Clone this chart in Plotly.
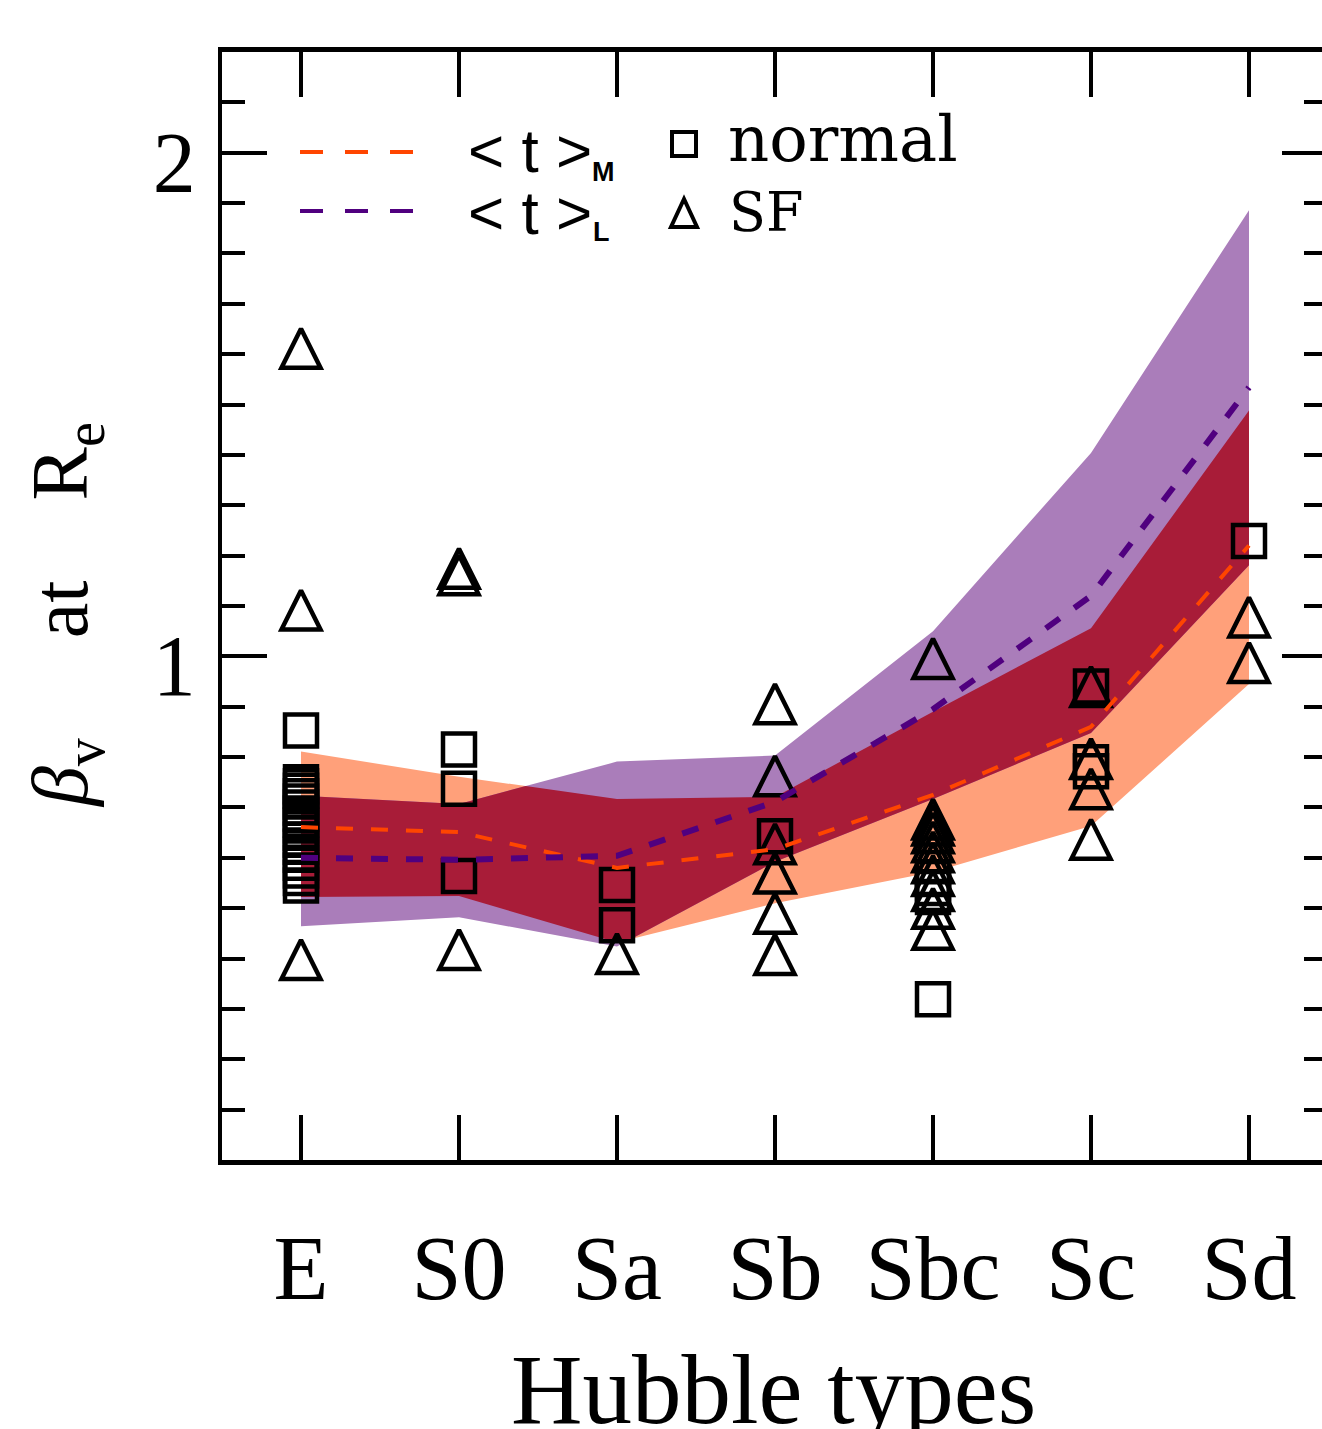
import plotly.graph_objects as go

# ---------------- data ----------------
categories = ["E", "S0", "Sa", "Sb", "Sbc", "Sc", "Sd"]

# mass-weighted (<t>_M) and light-weighted (<t>_L) ranges and means
mass_lower  = [0.522, 0.524, 0.432, 0.510, 0.572, 0.663, 0.945]
mass_upper  = [0.811, 0.761, 0.717, 0.721, 0.890, 1.056, 1.488]
light_lower = [0.464, 0.482, 0.424, 0.592, 0.717, 0.848, 1.181]
light_upper = [0.723, 0.707, 0.791, 0.803, 1.050, 1.404, 1.886]
mass_mean   = [0.661, 0.651, 0.580, 0.617, 0.725, 0.860, 1.220]
light_mean  = [0.600, 0.596, 0.604, 0.711, 0.895, 1.120, 1.534]

# individual galaxies: normal (squares) and star-forming (triangles)
normal_type = ["E"] * 18 + ["S0"] * 3 + ["Sa"] * 2 + ["Sb"] + ["Sbc"] * 4 + ["Sc"] * 3 + ["Sd"]
normal_beta = [0.853, 0.750, 0.742, 0.733, 0.722, 0.712, 0.700, 0.688, 0.676, 0.664, 0.650,
               0.636, 0.622, 0.606, 0.590, 0.575, 0.560, 0.545,
               0.815, 0.737, 0.564,
               0.546, 0.466,
               0.643,
               0.560, 0.540, 0.522, 0.319,
               0.940, 0.790, 0.772,
               1.229]
sf_type = ["E"] * 3 + ["S0"] * 3 + ["Sa"] + ["Sb"] * 6 + ["Sbc"] * 11 + ["Sc"] * 4 + ["Sd"] * 2
sf_beta = [1.612, 1.092, 0.398,
           1.175, 1.162, 0.418,
           0.410,
           0.906, 0.763, 0.628, 0.570, 0.490, 0.408,
           0.996, 0.677, 0.665, 0.650, 0.632, 0.612, 0.590, 0.565, 0.535, 0.500, 0.458,
           0.940, 0.797, 0.737, 0.637,
           1.078, 0.988]

# ---------------- styles ----------------
SALMON = "rgb(255,160,122)"
LILAC = "rgb(170,125,186)"
CRIMSON = "rgb(168,28,56)"
ORANGE = "#FF4500"
INDIGO = "#50007F"
SERIF = "Liberation Serif"
SERIF2 = "DejaVu Serif"

W, H = 1322, 1429
L, R, T, B = 222, 1322, 52, 1160


def px_x(p):
    return (p - L) / (R - L)


def px_y(p):
    return (B - p) / (B - T)


xs = list(range(len(categories)))
pos = {c: i for i, c in enumerate(categories)}


def envelope(x, a, b, pick):
    ox, oy = [], []
    n = len(x)
    for i in range(n):
        ox.append(x[i])
        oy.append(pick(a[i], b[i]))
        if i < n - 1:
            d0 = a[i] - b[i]
            d1 = a[i + 1] - b[i + 1]
            if d0 * d1 < 0:
                t = d0 / (d0 - d1)
                ox.append(x[i] + t * (x[i + 1] - x[i]))
                oy.append(a[i] + t * (a[i + 1] - a[i]))
    return ox, oy


fig = go.Figure()

# bands
fig.add_trace(go.Scatter(x=xs + xs[::-1], y=mass_upper + mass_lower[::-1], fill="toself",
                         fillcolor=SALMON, line=dict(width=0), mode="lines", hoverinfo="skip"))
fig.add_trace(go.Scatter(x=xs + xs[::-1], y=light_upper + light_lower[::-1], fill="toself",
                         fillcolor=LILAC, line=dict(width=0), mode="lines", hoverinfo="skip"))
tx, ty = envelope(xs, mass_upper, light_upper, min)
bx, by = envelope(xs, mass_lower, light_lower, max)
fig.add_trace(go.Scatter(x=tx + bx[::-1], y=ty + by[::-1], fill="toself",
                         fillcolor=CRIMSON, line=dict(width=0), mode="lines", hoverinfo="skip"))

# points
fig.add_trace(go.Scatter(x=[pos[c] for c in normal_type], y=normal_beta, mode="markers",
                         marker=dict(symbol="square-open", size=32, color="black",
                                     line=dict(width=4.5, color="black"))))
TRI = 39
fig.add_trace(go.Scatter(x=[pos[c] for c in sf_type], y=sf_beta, mode="markers",
                         marker=dict(symbol="arrow-down-open", size=TRI, angle=180, standoff=TRI / 2,
                                     color="black", line=dict(width=4.5, color="black"))))

# mean lines
fig.add_trace(go.Scatter(x=xs, y=mass_mean, mode="lines",
                         line=dict(color=ORANGE, width=4, dash="17px,18px")))
fig.add_trace(go.Scatter(x=xs, y=light_mean, mode="lines",
                         line=dict(color=INDIGO, width=6, dash="17px,18px")))

# dummy trace for right-hand axis ticks
fig.add_trace(go.Scatter(x=[None], y=[None], yaxis="y2", mode="markers", showlegend=False))

# ---------------- legend (drawn in paper space) ----------------
shapes = [
    dict(type="line", xref="paper", yref="paper", x0=px_x(300), x1=px_x(414), y0=px_y(152), y1=px_y(152),
         line=dict(color=ORANGE, width=4, dash="23px,22px")),
    dict(type="line", xref="paper", yref="paper", x0=px_x(300), x1=px_x(414), y0=px_y(211), y1=px_y(211),
         line=dict(color=INDIGO, width=4, dash="23px,22px")),
    dict(type="rect", xref="paper", yref="paper", x0=px_x(672), x1=px_x(696), y0=px_y(156), y1=px_y(132),
         line=dict(color="black", width=4)),
    dict(type="path", xref="paper", yref="paper",
         path="M {:.5f},{:.5f} L {:.5f},{:.5f} L {:.5f},{:.5f} Z".format(
             px_x(684), px_y(199), px_x(671), px_y(227), px_x(697), px_y(227)),
         line=dict(color="black", width=4)),
]

annotations = [
    dict(text="&lt; t &gt;", x=px_x(466), y=px_y(150), xanchor="left", yanchor="middle",
         font=dict(family="Liberation Sans", size=62, color="black")),
    dict(text="&lt; t &gt;", x=px_x(466), y=px_y(212), xanchor="left", yanchor="middle",
         font=dict(family="Liberation Sans", size=62, color="black")),
    dict(text="<b>M</b>", x=px_x(603), y=px_y(172), xanchor="center", yanchor="middle",
         font=dict(family="Liberation Sans", size=27, color="black")),
    dict(text="<b>L</b>", x=px_x(601), y=px_y(232), xanchor="center", yanchor="middle",
         font=dict(family="Liberation Sans", size=27, color="black")),
    dict(text="normal", x=px_x(726), y=px_y(139), xanchor="left", yanchor="middle",
         font=dict(family=SERIF2, size=64, color="black")),
    dict(text="SF", x=px_x(727), y=px_y(212), xanchor="left", yanchor="middle",
         font=dict(family=SERIF2, size=54, color="black")),
    dict(text="Hubble types", x=px_x(773), y=px_y(1389), xanchor="center", yanchor="middle",
         font=dict(family=SERIF, size=99, color="black")),
    dict(text="<i>β</i><sub>v</sub>&nbsp;&nbsp;&nbsp;&nbsp; at &nbsp;&nbsp;&nbsp;R<sub>e</sub>",
         x=px_x(66), y=px_y(615), xanchor="center", yanchor="middle", textangle=-90,
         font=dict(family=SERIF, size=80, color="black")),
]
for a in annotations:
    a.update(xref="paper", yref="paper", showarrow=False)

fig.update_layout(
    template="none",
    width=W, height=H,
    margin=dict(l=L, r=W - R, t=T, b=H - B, pad=0),
    plot_bgcolor="white", paper_bgcolor="white",
    showlegend=False,
    shapes=shapes,
    annotations=annotations,
    xaxis=dict(range=[-0.5, -0.5 + (R - L) / 158.0], tickmode="array", tickvals=xs, ticktext=categories,
               ticks="inside", ticklen=45, tickwidth=4, tickcolor="black",
               showline=True, linewidth=5, linecolor="black", mirror="ticks",
               showgrid=False, zeroline=False, automargin=False,
               tickfont=dict(family=SERIF, size=90, color="black"), ticklabelstandoff=26),
    yaxis=dict(range=[0, 2.2], tickmode="array", tickvals=[1, 2], ticktext=["1", "2"],
               ticks="inside", ticklen=45, tickwidth=4, tickcolor="black",
               minor=dict(tickmode="linear", tick0=0, dtick=0.1, ticks="inside", ticklen=23,
                          tickwidth=4, tickcolor="black", showgrid=False),
               showline=True, linewidth=4, linecolor="black", mirror=False,
               showgrid=False, zeroline=False, automargin=False,
               tickfont=dict(family=SERIF, size=86, color="black"),
               ticklabelstandoff=5, ticklabelshift=9),
    yaxis2=dict(overlaying="y", side="right", range=[0, 2.2], tickmode="array", tickvals=[1, 2],
                ticks="inside", ticklen=40, tickwidth=4, tickcolor="black", showticklabels=False,
                minor=dict(tickmode="linear", tick0=0, dtick=0.1, ticks="inside", ticklen=18,
                           tickwidth=4, tickcolor="black", showgrid=False),
                showline=False, showgrid=False, zeroline=False, automargin=False),
)

fig.write_html("out.html", config={"displayModeBar": False},
               post_script="document.body.style.margin='0px';")
